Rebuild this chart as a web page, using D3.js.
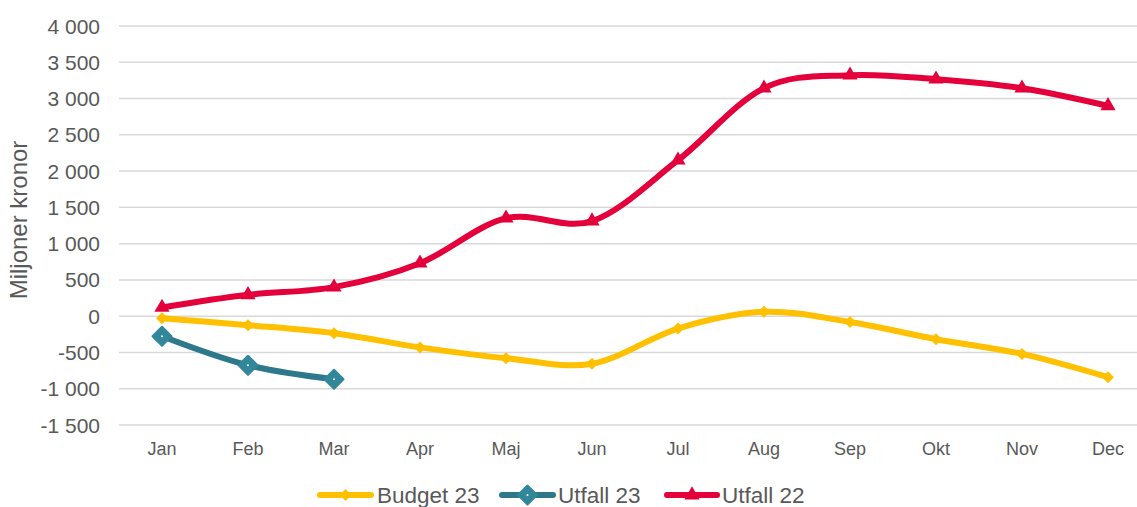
<!DOCTYPE html>
<html><head><meta charset="utf-8">
<script src="https://cdn.jsdelivr.net/npm/d3@7"></script>
<style>body{margin:0;background:#fff}svg{display:block;font-family:"Liberation Sans",Arial,sans-serif}</style>
</head><body><svg id="c" width="1137" height="507"></svg>
<script>
const months = ["Jan","Feb","Mar","Apr","Maj","Jun","Jul","Aug","Sep","Okt","Nov","Dec"];
const budget23 = [-28,-124,-234,-430,-579,-655,-170,60,-80,-317,-520,-841];
const utfall23 = [-276,-676,-869];
const utfall22 = [120,295,400,730,1351,1310,2150,3143,3322,3267,3143,2900];
const yTicks = [-1500,-1000,-500,0,500,1000,1500,2000,2500,3000,3500,4000];
const seriesNames = ["Budget 23","Utfall 23","Utfall 22"];

const svg = d3.select("#c");
const x = d3.scaleBand().domain(months).range([119,1151]);
const y = d3.scaleLinear().domain([-1500,4000]).range([425,26]);
const fmt = v => { const s = Math.abs(v).toString().replace(/\B(?=(\d{3})+(?!\d))/g, " "); return (v<0?"-":"")+s; };

// gridlines
svg.append("g").selectAll("line").data(yTicks).join("line")
  .attr("x1",119).attr("x2",1137).attr("y1",d=>y(d)).attr("y2",d=>y(d))
  .attr("stroke","#d9d9d9").attr("stroke-width",1.5);

// y labels
svg.append("g").selectAll("text").data(yTicks).join("text")
  .attr("x",100).attr("y",d=>y(d)).attr("dy","0.36em").attr("text-anchor","end")
  .attr("font-size",21).attr("fill","#595959").text(fmt);

// x labels
svg.append("g").selectAll("text").data(months).join("text")
  .attr("x",d=>x(d)+x.bandwidth()/2).attr("y",455).attr("text-anchor","middle")
  .attr("font-size",18).attr("fill","#595959").text(d=>d);

// y title
svg.append("text").attr("transform","translate(27,220) rotate(-90)").attr("text-anchor","middle")
  .attr("font-size",24).attr("fill","#595959").text("Miljoner kronor");

const cx = (d,i)=>x(months[i])+x.bandwidth()/2;
const line = d3.line().x(cx).y(d=>y(d)).curve(d3.curveCardinal.tension(0));

const diamond = s => `M0,${-s}L${s},0L0,${s}L${-s},0Z`;
const tri = d3.symbol().type(d3.symbolTriangle).size(100);

function drawSeries(data, color, kind){
  const g = svg.append("g");
  g.append("path").datum(data).attr("d",line).attr("fill","none").attr("stroke",color.line)
    .attr("stroke-width",6).attr("stroke-linejoin","round").attr("stroke-linecap","round");
  data.forEach((v,i)=>{
    const px = cx(v,i), py = y(v);
    if(kind==="yd"){
      g.append("path").attr("d",diamond(6)).attr("transform",`translate(${px},${py})`).attr("fill",color.line);
    } else if(kind==="td"){
      g.append("path").attr("d",diamond(9.5)).attr("transform",`translate(${px},${py})`)
        .attr("fill",color.fill).attr("stroke",color.fill).attr("stroke-width",2).attr("stroke-linejoin","round");
      g.append("circle").attr("cx",px).attr("cy",py).attr("r",1).attr("fill","#fff");
    } else {
      g.append("path").attr("d",tri()).attr("transform",`translate(${px},${py})`).attr("fill",color.line);
    }
  });
}
const cYellow = {line:"#FFC000"}, cTeal = {line:"#2E788B", fill:"#33879B"}, cRed = {line:"#E4003A"};
drawSeries(utfall22, cRed, "tri");
drawSeries(budget23, cYellow, "yd");
drawSeries(utfall23, cTeal, "td");

// legend
const leg = [
  {name:seriesNames[0], c:cYellow, k:"yd", x1:320, x2:371, tx:377},
  {name:seriesNames[1], c:cTeal, k:"td", x1:502, x2:553, tx:558},
  {name:seriesNames[2], c:cRed, k:"tri", x1:667, x2:717, tx:722}
];
const ly = 495;
leg.forEach(l=>{
  const g = svg.append("g");
  g.append("line").attr("x1",l.x1).attr("x2",l.x2).attr("y1",ly).attr("y2",ly)
    .attr("stroke",l.c.line).attr("stroke-width",6).attr("stroke-linecap","round");
  const mx=(l.x1+l.x2)/2;
  if(l.k==="yd") g.append("path").attr("d",diamond(6)).attr("transform",`translate(${mx},${ly})`).attr("fill",l.c.line);
  else if(l.k==="td"){ g.append("path").attr("d",diamond(9.5)).attr("transform",`translate(${mx},${ly})`).attr("fill",l.c.fill).attr("stroke",l.c.fill).attr("stroke-width",2).attr("stroke-linejoin","round");
    g.append("circle").attr("cx",mx).attr("cy",ly).attr("r",1).attr("fill","#fff"); }
  else g.append("path").attr("d",tri()).attr("transform",`translate(${mx},${ly})`).attr("fill",l.c.line);
  g.append("text").attr("x",l.tx).attr("y",503).attr("font-size",22.5).attr("fill","#595959").text(l.name);
});
</script></body></html>
